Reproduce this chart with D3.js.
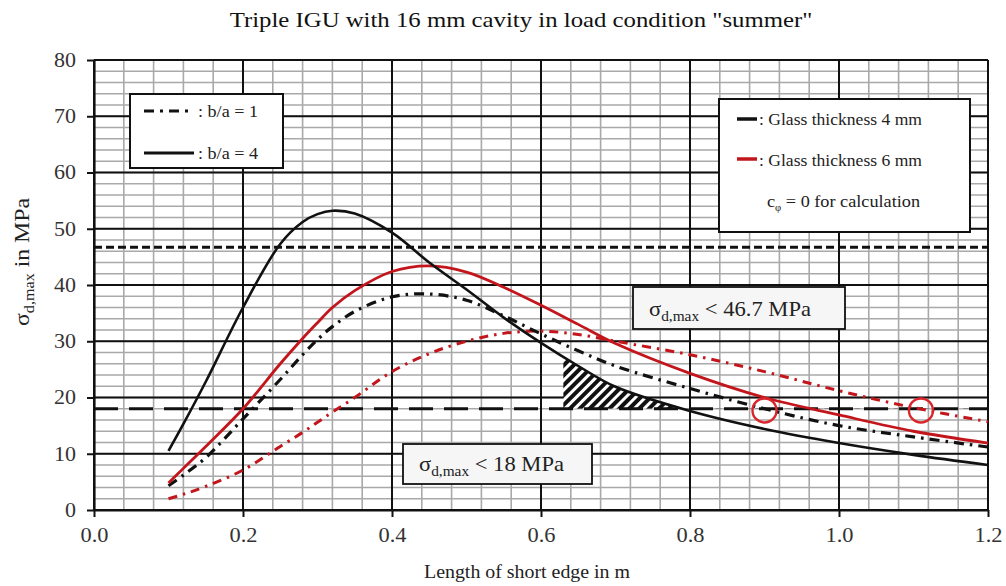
<!DOCTYPE html>
<html>
<head>
<meta charset="utf-8">
<script src="https://cdn.jsdelivr.net/npm/d3@7"></script>
<style>
  body { margin: 0; background: #fff; }
  text { font-family: "Liberation Serif", "Times New Roman", serif; }
</style>
</head>
<body>
<div id="chart-area"></div>
<script>
// Data (length of short edge in m -> sigma_d,max in MPa)
var edgeLengths = [0.1, 0.12, 0.15, 0.2, 0.25, 0.28, 0.3, 0.32, 0.35, 0.4, 0.45, 0.5, 0.55, 0.6, 0.65, 0.7, 0.8, 0.9, 1.0, 1.1, 1.2];
var glass4Ratio4 = [10.5, 15.3, 22.8, 36.0, 47.3, 51.2, 52.6, 53.2, 52.7, 49.3, 44.0, 39.2, 34.2, 29.7, 25.6, 21.9, 17.6, 14.4, 11.9, 9.8, 8.0];
var glass4Ratio1 = [4.3, 6.2, 9.3, 16.2, 23.2, 27.6, 30.3, 32.6, 35.3, 37.9, 38.4, 37.3, 34.5, 31.3, 28.3, 25.6, 21.6, 18.0, 15.0, 13.0, 11.2];
var glass6Ratio4 = [4.8, 7.4, 11.3, 18.0, 26.0, 30.5, 33.3, 36.0, 39.0, 42.4, 43.4, 42.3, 39.6, 36.4, 33.0, 29.6, 24.3, 20.0, 16.9, 14.0, 11.9];
var glass6Ratio1 = [2.0, 2.8, 4.2, 7.1, 11.3, 13.8, 15.6, 17.4, 20.0, 24.6, 27.8, 30.0, 31.4, 31.8, 31.2, 30.0, 27.6, 24.6, 21.2, 18.2, 15.7];

var stressLimits = [46.7, 18];
var markedEdges = [0.9, 1.11];
var markedStress = 17.7;
var hatchStart = 0.63;

var xMajorTicks = [0, 0.2, 0.4, 0.6, 0.8, 1.0, 1.2];
var yMajorTicks = [0, 10, 20, 30, 40, 50, 60, 70, 80];

var margin = { left: 94, right: 18, top: 60, bottom: 76 };
var width = 1006 - margin.left - margin.right,
    height = 586 - margin.top - margin.bottom;

var RED = "#c3161c";

var svg = d3.select("#chart-area")
    .append("svg")
        .attr("width", 1006)
        .attr("height", 586);

var defs = svg.append("defs");

// hatch pattern for the triangle
var pat = defs.append("pattern")
    .attr("id", "hatch")
    .attr("patternUnits", "userSpaceOnUse")
    .attr("width", 7)
    .attr("height", 7)
    .attr("patternTransform", "rotate(45)");
pat.append("rect").attr("width", 7).attr("height", 7).attr("fill", "#fff");
pat.append("rect").attr("width", 4).attr("height", 7).attr("fill", "#111");

var g = svg.append("g")
    .attr("transform", "translate(" + margin.left + ", " + margin.top + ")");

var x = d3.scaleLinear().domain([0, 1.2]).range([0, width]);
var y = d3.scaleLinear().domain([0, 80]).range([height, 0]);

// Minor grid
g.append("g").selectAll("line")
    .data(d3.range(0, 1.2001, 0.04))
    .enter().append("line")
        .attr("x1", function(d){ return x(d); })
        .attr("x2", function(d){ return x(d); })
        .attr("y1", 0).attr("y2", height)
        .attr("stroke", "#a9a9a9").attr("stroke-width", 1.6);
g.append("g").selectAll("line")
    .data(d3.range(0, 80.01, 2))
    .enter().append("line")
        .attr("y1", function(d){ return y(d); })
        .attr("y2", function(d){ return y(d); })
        .attr("x1", 0).attr("x2", width)
        .attr("stroke", "#a9a9a9").attr("stroke-width", 1.6);

// Major grid
g.append("g").selectAll("line")
    .data(xMajorTicks)
    .enter().append("line")
        .attr("x1", function(d){ return x(d); })
        .attr("x2", function(d){ return x(d); })
        .attr("y1", 0).attr("y2", height)
        .attr("stroke", "#111").attr("stroke-width", 2);
g.append("g").selectAll("line")
    .data(yMajorTicks)
    .enter().append("line")
        .attr("y1", function(d){ return y(d); })
        .attr("y2", function(d){ return y(d); })
        .attr("x1", 0).attr("x2", width)
        .attr("stroke", "#111").attr("stroke-width", 2);

// Axes
var xAxisCall = d3.axisBottom(x)
    .tickValues(xMajorTicks)
    .tickSize(7)
    .tickSizeOuter(0)
    .tickPadding(8)
    .tickFormat(d3.format(".1f"));
var xAxisGroup = g.append("g")
    .attr("transform", "translate(0," + height + ")")
    .call(xAxisCall);

var yAxisCall = d3.axisLeft(y)
    .tickValues(yMajorTicks)
    .tickSize(7)
    .tickSizeOuter(0)
    .tickPadding(11);
var yAxisGroup = g.append("g").call(yAxisCall);

[xAxisGroup, yAxisGroup].forEach(function(ax){
    ax.select(".domain").attr("stroke", "#111").attr("stroke-width", 2.2);
    ax.selectAll(".tick line").attr("stroke", "#111").attr("stroke-width", 2);
    ax.selectAll(".tick text")
        .attr("font-family", "Liberation Serif, serif")
        .attr("font-size", "20px")
        .attr("fill", "#333")
        .attr("lengthAdjust", "spacingAndGlyphs");
});
xAxisGroup.selectAll(".tick text").attr("dy", "0.85em").attr("textLength", 28);
yAxisGroup.selectAll(".tick text").attr("textLength", function(d){ return d < 10 ? 11 : 22; });

// Hatched area between the 4 mm / b/a=4 curve and the 18 MPa limit
var rows4 = edgeLengths.map(function(e, i){ return { e: e, v: glass4Ratio4[i] }; });
var curve = d3.curveCatmullRom.alpha(0.5);

defs.append("clipPath").attr("id", "hatchClip")
    .append("rect")
        .attr("x", x(hatchStart))
        .attr("y", 0)
        .attr("width", width - x(hatchStart))
        .attr("height", y(stressLimits[1]));

g.append("path")
    .datum(rows4)
    .attr("clip-path", "url(#hatchClip)")
    .attr("fill", "url(#hatch)")
    .attr("d", d3.area()
        .x(function(d){ return x(d.e); })
        .y0(y(stressLimits[1]))
        .y1(function(d){ return y(d.v); })
        .curve(curve));

// Limit lines
g.append("line")
    .attr("x1", 0).attr("x2", width)
    .attr("y1", y(stressLimits[0])).attr("y2", y(stressLimits[0]))
    .attr("stroke", "#111").attr("stroke-width", 3)
    .attr("stroke-dasharray", "8,4");
g.append("line")
    .attr("x1", 0).attr("x2", width)
    .attr("y1", y(stressLimits[1])).attr("y2", y(stressLimits[1]))
    .attr("stroke", "#111").attr("stroke-width", 3)
    .attr("stroke-dasharray", "24,11");

// Curves
var line = d3.line()
    .x(function(d){ return x(d.e); })
    .y(function(d){ return y(d.v); })
    .curve(curve);

var series = [
    { values: glass6Ratio1, color: RED, width: 3, dash: "9,6,2.5,6" },
    { values: glass4Ratio1, color: "#111", width: 3.2, dash: "10,6,2.5,6" },
    { values: glass6Ratio4, color: RED, width: 2.8, dash: null },
    { values: glass4Ratio4, color: "#111", width: 2.6, dash: null }
];

series.forEach(function(s){
    var rows = edgeLengths.map(function(e, i){ return { e: e, v: s.values[i] }; });
    g.append("path")
        .datum(rows)
        .attr("fill", "none")
        .attr("stroke", s.color)
        .attr("stroke-width", s.width)
        .attr("stroke-dasharray", s.dash)
        .attr("d", line);
});

// Circles
g.selectAll(".mark")
    .data(markedEdges)
    .enter().append("circle")
        .attr("cx", function(d){ return x(d); })
        .attr("cy", y(markedStress))
        .attr("r", 12)
        .attr("fill", "none")
        .attr("stroke", "#d8262c")
        .attr("stroke-width", 2.4);

// Limit boxes
function sigmaText(sel, rest, size){
    sel.append("tspan").text("σ");
    sel.append("tspan").attr("font-size", (size * 0.68) + "px").attr("dy", 5).text("d,max");
    sel.append("tspan").attr("dy", -5).text(rest);
}

function limitBox(x0, y0, w, h, rest, len){
    svg.append("rect")
        .attr("x", x0).attr("y", y0)
        .attr("width", w).attr("height", h)
        .attr("fill", "#f6f6f6")
        .attr("stroke", "#111").attr("stroke-width", 1.8);
    var t = svg.append("text")
        .attr("x", x0 + 16).attr("y", y0 + h - 13)
        .attr("font-size", "21px")
        .attr("fill", "#222")
        .attr("textLength", len)
        .attr("lengthAdjust", "spacingAndGlyphs");
    sigmaText(t, rest, 21);
}
limitBox(633, 287, 212, 42, " < 46.7 MPa", 162);
limitBox(403, 444, 189, 40, " < 18 MPa", 145);

// Left legend (b/a)
svg.append("rect")
    .attr("x", 130).attr("y", 94)
    .attr("width", 153).attr("height", 74)
    .attr("fill", "#fff")
    .attr("stroke", "#111").attr("stroke-width", 2);
svg.append("line")
    .attr("x1", 144).attr("x2", 190).attr("y1", 111).attr("y2", 111)
    .attr("stroke", "#111").attr("stroke-width", 3.2)
    .attr("stroke-dasharray", "10,6,3,6");
svg.append("line")
    .attr("x1", 144).attr("x2", 194).attr("y1", 153).attr("y2", 153)
    .attr("stroke", "#111").attr("stroke-width", 3);
svg.append("text").attr("x", 198).attr("y", 117)
    .attr("font-size", "17px").attr("fill", "#222")
    .attr("textLength", 60).attr("lengthAdjust", "spacingAndGlyphs")
    .text(": b/a = 1");
svg.append("text").attr("x", 198).attr("y", 159)
    .attr("font-size", "17px").attr("fill", "#222")
    .attr("textLength", 60).attr("lengthAdjust", "spacingAndGlyphs")
    .text(": b/a = 4");

// Right legend (glass thickness)
svg.append("rect")
    .attr("x", 719).attr("y", 99)
    .attr("width", 251).attr("height", 133)
    .attr("fill", "#fff")
    .attr("stroke", "#111").attr("stroke-width", 2);
svg.append("line")
    .attr("x1", 737).attr("x2", 757).attr("y1", 119).attr("y2", 119)
    .attr("stroke", "#111").attr("stroke-width", 3.5);
svg.append("line")
    .attr("x1", 737).attr("x2", 757).attr("y1", 159).attr("y2", 159)
    .attr("stroke", RED).attr("stroke-width", 3.5);
svg.append("text").attr("x", 759).attr("y", 125)
    .attr("font-size", "17px").attr("fill", "#222")
    .attr("textLength", 163).attr("lengthAdjust", "spacingAndGlyphs")
    .text(": Glass thickness 4 mm");
svg.append("text").attr("x", 759).attr("y", 166)
    .attr("font-size", "17px").attr("fill", "#222")
    .attr("textLength", 163).attr("lengthAdjust", "spacingAndGlyphs")
    .text(": Glass thickness 6 mm");
var cphi = svg.append("text").attr("x", 767).attr("y", 207)
    .attr("font-size", "17px").attr("fill", "#222")
    .attr("textLength", 153).attr("lengthAdjust", "spacingAndGlyphs");
cphi.append("tspan").text("c");
cphi.append("tspan").attr("font-size", "10px").attr("dy", 4).text("φ");
cphi.append("tspan").attr("dy", -4).text(" = 0 for calculation");

// Title (stretched horizontally like the original)
svg.append("text")
    .attr("transform", "translate(521, 27) scale(1.18, 1)")
    .attr("text-anchor", "middle")
    .attr("font-size", "21px")
    .attr("fill", "#111")
    .text("Triple IGU with 16 mm cavity in load condition \"summer\"");

// X Label
svg.append("text")
    .attr("x", 527).attr("y", 578)
    .attr("text-anchor", "middle")
    .attr("font-size", "19px")
    .attr("fill", "#222")
    .attr("textLength", 206)
    .attr("lengthAdjust", "spacingAndGlyphs")
    .text("Length of short edge in m");

// Y Label
var yl = svg.append("text")
    .attr("transform", "translate(29, 262) rotate(-90)")
    .attr("text-anchor", "middle")
    .attr("font-size", "20px")
    .attr("fill", "#222")
    .attr("textLength", 128)
    .attr("lengthAdjust", "spacingAndGlyphs");
sigmaText(yl, " in MPa", 20);
</script>
</body>
</html>
